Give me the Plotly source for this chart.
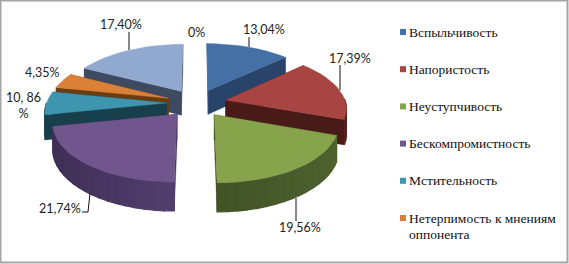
import math
import plotly.graph_objects as go

categories = ["Вспыльчивость", "Напористость", "Неуступчивость", "Бескомпромистность",
              "Мстительность", "Нетерпимость к мнениям<br>оппонента", "Прочее"]
slice_values = [13.04, 17.39, 19.56, 21.74, 6.52, 4.35, 17.40]
top_colors = ["#4570A5", "#A84442", "#87A44D", "#71558D", "#3D96AE", "#DA8137", "#92A9CF"]
face_colors = ["#29446A", "#481A18", "#3A4A20", "#40305A", "#173F4C", "#6A3C12", "#3E4A60"]
rim_left = ["#29446A", "#552220", "#4F6330", "#664F84", "#173F4C", "#6A3C12", "#3E4A60"]
rim_right = ["#29446A", "#481A18", "#34421C", "#3D2E55", "#173F4C", "#6A3C12", "#3E4A60"]
draw_order = [6, 5, 4, 0, 1, 3, 2]

W, H = 569, 264
CX, CY, KX, KY, PERSP, DEPTH, EXPLODE = 196.5, 103, 120, 56, 0.129, 24.5, 0.25

def project(x, y, down=0.0):
    s = 1 / (1 + PERSP * y)
    return CX + KX * x * s, CY - KY * y * s + down * s

def mix(a, b, t):
    ca = [int(a[i:i + 2], 16) for i in (1, 3, 5)]
    cb = [int(b[i:i + 2], 16) for i in (1, 3, 5)]
    return "#%02x%02x%02x" % tuple(round(p + (q - p) * t) for p, q in zip(ca, cb))

fig = go.Figure()

def poly(pts, color, width=0.4):
    xs = [p[0] for p in pts] + [pts[0][0]]
    ys = [p[1] for p in pts] + [pts[0][1]]
    fig.add_trace(go.Scatter(x=xs, y=ys, mode="lines", fill="toself", fillcolor=color,
                             line=dict(color=color, width=width), hoverinfo="skip", showlegend=False))

total = sum(slice_values)
bounds = [0.0]
for v in slice_values:
    bounds.append(bounds[-1] + v / total * 2 * math.pi)

for i in draw_order:
    a0, a1 = bounds[i], bounds[i + 1]
    mid = (a0 + a1) / 2
    ox, oy = EXPLODE * math.sin(mid), EXPLODE * math.cos(mid)
    n = max(8, int((a1 - a0) / math.radians(4)))
    angles = [a0 + (a1 - a0) * k / n for k in range(n + 1)]
    world = [(ox + math.sin(a), oy + math.cos(a)) for a in angles]
    # cut faces
    for a in (a0, a1):
        e = (ox + math.sin(a), oy + math.cos(a))
        poly([project(ox, oy), project(*e), project(*e, DEPTH), project(ox, oy, DEPTH)], face_colors[i])
    # front rim, shaded band by band
    for k in range(n):
        if math.cos((angles[k] + angles[k + 1]) / 2) > 0.02:
            continue
        t = min(1, max(0, (math.sin((angles[k] + angles[k + 1]) / 2) + 1) / 2))
        poly([project(*world[k]), project(*world[k + 1]),
              project(*world[k + 1], DEPTH), project(*world[k], DEPTH)],
             mix(rim_right[i], rim_left[i], t), width=1.2)
    # top
    poly([project(ox, oy)] + [project(*w) for w in world], top_colors[i])

# legend
LEGEND_X, LEGEND_TOP, LEGEND_STEP, LEGEND_LINE = 403, 32, 37.2, 16
legend_ys = [LEGEND_TOP + LEGEND_STEP * k for k in range(6)]
fig.add_trace(go.Scatter(x=[LEGEND_X] * 6, y=legend_ys, mode="markers", hoverinfo="skip", showlegend=False,
                         marker=dict(symbol="square", size=6, color=top_colors[:6], line_width=0)))
annotations = []
for k in range(6):
    for j, line in enumerate(categories[k].split("<br>")):
        annotations.append(dict(x=LEGEND_X + (4 if j == 0 else 4), y=legend_ys[k] - 9.5 + j * LEGEND_LINE, text=line,
                                xref="x", yref="y", xanchor="left", yanchor="top", align="left", showarrow=False,
                                font=dict(family="Liberation Serif", size=13.5, color="#111111")))

# data labels
data_labels = [("13,04%", 264, 29), ("17,39%", 349.5, 58), ("19,56%", 300, 227), ("21,74%", 60, 208),
               ("10, 86<br>%", 23, 105), ("4,35%", 42, 72), ("17,40%", 121, 24), ("0%", 196, 32)]
for txt, x, y in data_labels:
    annotations.append(dict(x=x, y=y, text=txt, xref="x", yref="y", showarrow=False,
                            font=dict(family="Lato", size=12.5, color="#222222")))

leaders = [[(249, 37), (249, 47)], [(129, 32), (129, 50)], [(340, 65), (340, 90)],
           [(296, 198), (296, 221)], [(90, 193), (88, 212), (82, 212)]]
shapes = [dict(type="rect", xref="x", yref="y", x0=0.5, y0=0.5, x1=W - 1.5, y1=H - 1.5,
               line=dict(color="#A6A6A6", width=2), layer="above")]
for pts in leaders:
    path = "M" + " L".join(f"{x},{y}" for x, y in pts)
    shapes.append(dict(type="path", path=path, xref="x", yref="y", line=dict(color="#111111", width=1), layer="above"))

fig.update_layout(width=W, height=H, margin=dict(l=0, r=0, t=0, b=0), paper_bgcolor="white", plot_bgcolor="white",
                  xaxis=dict(range=[0, W], visible=False, fixedrange=True),
                  yaxis=dict(range=[H, 0], visible=False, fixedrange=True),
                  annotations=annotations, shapes=shapes, showlegend=False)
fig.write_html("out.html", config={"displayModeBar": False},
               post_script="document.body.style.margin='0';document.documentElement.style.overflow='hidden';")
